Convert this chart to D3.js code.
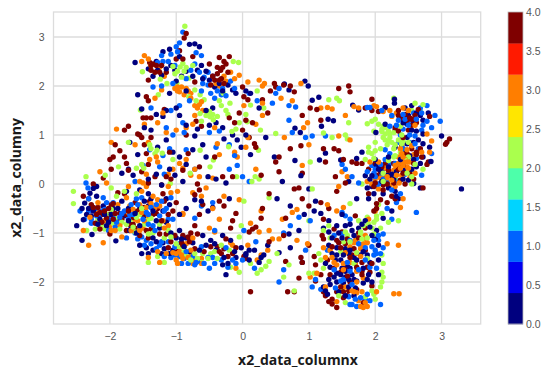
<!DOCTYPE html>
<html><head><meta charset="utf-8">
<script src="https://d3js.org/d3.v7.min.js"></script>
<style>html,body{margin:0;padding:0;background:#fff}svg{display:block}</style>
</head><body><svg id="c" width="550" height="375"></svg>
<script>
const xTicks=[-2,-1,0,1,2,3];
const yTicks=[-2,-1,0,1,2,3];
const barTicks=[0,0.5,1,1.5,2,2.5,3,3.5,4];
const bandColors=["#00007f","#0000f1","#0063ff","#00d4ff","#4dffaa","#aaff4d","#ffe600","#ff7e00","#ff1a00","#7f0000"];
const xLabel="x2_data_columnx", yLabel="x2_data_columny";
const classValues=[0,1,2,3,4];
const navy=[-1.62,2.48,-1.42,2.35,-1.3,2.5,-1.2,2.7,-1.1,2.75,-0.95,2.6,-0.8,2.85,-0.72,2.86,-0.65,2.8,-0.85,2.3,-0.75,2.2,-1.15,2.35,-1.35,2.2,-1.0,2.1,-0.55,2.3,-0.6,2.15,-0.45,2.2,-0.35,2.05,-0.3,1.9,-0.1,1.85,0.05,1.9,0.12,1.85,0.25,1.55,-1.58,1.82,-1.52,1.53,-1.2,1.38,-1.15,1.5,-1.0,1.55,-0.95,1.4,-0.85,1.2,-0.55,1.5,-0.45,1.55,-0.4,1.25,-0.5,1.2,-0.3,1.15,-0.15,1.0,-0.08,0.9,-0.02,0.75,0.12,0.6,0.05,1.0,0.35,0.95,0.48,0.55,-1.48,1.15,-1.38,1.1,-1.15,0.9,-1.28,0.75,-1.05,0.65,-0.95,0.55,-0.75,0.7,-0.6,0.8,-0.55,0.55,-0.85,0.4,-1.7,0.85,-1.58,0.6,-1.1,0.3,-1.3,0.2,-1.42,0.1,-0.52,0.15,-0.4,0.1,-0.25,0.02,-0.9,0.05,-2.2,-0.05,0.94,2.1,0.99,2.0,0.63,2.04,0.7,1.92,1.05,1.71,1.15,1.77,1.66,1.61,1.75,1.51,1.37,1.29,1.29,1.32,1.19,1.18,0.79,1.14,0.87,1.05,2.15,1.56,2.29,1.73,2.29,1.65,2.15,1.22,2.01,1.05,3.0,0.98,1.8,0.65,1.25,0.63,1.16,0.49,0.79,0.48,0.88,0.17,1.48,0.49,1.72,0.52,1.85,0.17,1.95,0.17,2.84,0.46,3.3,-0.1,2.68,-0.08,2.58,0.01,
2.45,1.55,2.55,1.6,2.62,1.45,2.72,1.3,2.8,1.45,2.5,1.4,2.42,1.25,2.3,1.1,2.55,1.1,2.72,1.02,2.65,0.9,2.48,0.82,2.3,0.75,2.82,0.75,2.72,0.55,2.62,0.35,2.2,0.35,2.1,0.25,2.25,0.2,2.42,0.1,2.5,0.08,2.55,0.3,2.38,0.5,2.2,0.55,2.0,0.5,2.05,0.3,2.1,0.05,1.95,-0.05,2.12,-0.2,2.35,-0.3,2.25,-0.55,2.12,-0.7,2.3,-0.15,
-2.5,-0.85,-2.42,-1.15,-2.27,-1.03,-1.91,-1.16,-2.4,-0.73,-2.38,-0.39,-2.3,-0.19,-2.25,-0.09,-2.42,-0.5,-2.35,-0.62,-2.25,-0.55,-2.2,-0.25,-2.15,-0.72,-2.05,-0.85,-1.98,-0.62,-1.88,-0.5,-1.82,-0.35,-1.72,-0.75,-1.62,-0.6,-1.55,-0.85,-1.48,-0.35,-1.42,-0.2,-1.35,-0.55,-1.3,-0.75,-1.25,-0.9,-1.2,-1.2,-1.35,-1.35,-1.45,-1.3,-1.52,-1.42,-1.22,-1.42,-1.05,-1.35,-1.0,-1.1,-0.95,-0.95,-0.85,-1.1,-0.75,-1.2,-0.6,-1.05,-0.48,-1.15,-0.4,-1.35,-0.3,-1.05,-0.18,-1.15,-0.1,-1.5,-0.02,-1.3,0.1,-1.55,-0.3,-1.65,-0.25,-1.85,0.05,-1.45,0.1,-1.35,0.25,-1.6,0.32,-1.45,0.38,-1.25,-0.95,-0.62,-0.85,-0.5,-0.72,-0.32,-0.62,-0.35,-0.45,-0.48,-0.2,-0.3,-0.52,-0.55,-1.55,-0.12,-1.75,-0.15,-1.15,-0.3,0.72,-1.3,0.55,-1.4,0.9,-1.6,-1.6,-1.0,-1.7,-0.95,-2.1,-0.45,
1.0,-0.1,1.1,-0.35,1.18,-0.6,1.3,-0.75,1.22,-0.9,1.35,-1.1,1.45,-1.0,1.55,-0.85,1.65,-0.95,1.75,-0.9,1.85,-0.75,1.95,-1.05,1.42,-1.3,1.3,-1.25,1.52,-1.45,1.62,-1.35,1.72,-1.55,1.82,-1.38,1.92,-1.6,2.05,-1.25,2.05,-1.55,1.4,-1.55,1.32,-1.7,1.5,-1.72,1.58,-1.65,1.65,-1.85,1.72,-1.98,1.55,-1.9,1.48,-1.85,1.38,-1.9,1.32,-2.05,1.22,-2.1,1.28,-2.25,1.45,-2.2,1.6,-2.1,1.7,-2.12,1.88,-1.95,1.95,-2.0,2.05,-1.85,1.82,-1.72,1.08,-0.55,0.93,-0.62,0.85,-0.95,0.72,-0.45,0.6,0.05,0.52,-0.3,0.7,-1.02,1.5,-0.62,1.9,-0.3,1.72,-0.3,1.6,0.05,2.02,-0.95];
const azure=[-0.9,3.1,-0.95,2.88,-1.0,2.8,-1.08,2.65,-1.22,2.62,-1.28,2.48,-1.12,2.5,-0.85,2.15,-0.72,2.45,-0.7,2.68,-0.62,2.62,-0.65,2.28,-0.6,2.05,-0.52,2.02,-0.48,1.85,-0.42,1.75,-0.3,1.95,-0.25,1.8,-1.05,2.05,-1.35,1.98,-0.8,1.7,-0.95,1.6,-1.08,1.5,-1.38,1.55,-1.15,1.15,-0.88,1.05,-1.05,1.0,-0.5,1.05,-0.35,1.08,-0.12,0.58,-0.08,0.38,0.0,0.15,0.1,0.05,-0.2,0.8,-1.4,0.7,-1.5,0.38,-1.62,0.05,-1.2,0.58,-0.85,0.7,-0.72,0.3,-0.4,0.75,-0.2,0.3,0.1,1.85,0.22,1.7,0.45,1.65,0.5,1.85,0.55,1.95,0.7,1.6,0.8,1.57,0.7,1.3,0.75,1.05,0.95,0.95,1.05,0.98,1.25,0.98,-2.36,0.02,-2.33,-0.08,
1.88,1.56,1.92,1.56,2.1,1.5,2.25,1.4,2.35,1.3,2.42,1.12,2.52,1.3,2.58,1.45,2.68,1.55,2.78,1.6,2.9,1.4,2.98,1.28,2.78,1.28,2.7,1.1,2.85,1.15,2.6,0.98,2.52,1.0,2.35,0.85,2.42,0.72,2.85,0.62,2.22,0.62,2.15,0.5,2.08,0.4,2.0,0.3,2.0,0.15,2.12,0.1,2.05,0.0,2.18,0.02,1.5,0.4,1.55,0.3,1.65,0.15,1.75,0.02,1.88,0.25,2.25,-0.12,2.38,-0.2,2.62,-0.58,2.18,-0.5,2.25,-0.72,2.32,-0.38,2.32,0.08,2.45,0.2,2.7,0.18,
-2.45,-0.55,-2.38,-0.72,-2.28,-0.8,-2.2,-0.65,-2.22,-0.5,-2.12,-0.55,-2.05,-0.38,-2.02,-0.95,-1.92,-0.88,-1.85,-0.68,-1.78,-0.55,-1.7,-0.62,-1.68,-0.42,-1.6,-0.3,-1.5,-0.72,-1.45,-0.58,-1.42,-0.82,-1.32,-0.95,-1.3,-0.42,-1.25,-0.65,-1.15,-0.5,-1.08,-0.28,-1.05,-0.72,-1.62,-1.0,-1.58,-1.12,-1.75,-1.1,-1.45,-1.15,-1.38,-1.22,-1.25,-1.25,-1.12,-1.18,-1.02,-1.28,-0.95,-1.48,-0.92,-1.62,-0.75,-1.48,-0.72,-1.65,-0.58,-1.62,-0.5,-1.72,-0.45,-1.5,-0.62,-1.28,-0.25,-1.3,-0.15,-1.55,0.0,-1.55,-0.22,-1.7,0.2,-1.18,0.02,-0.95,-0.42,-0.95,-0.72,-0.7,-1.95,-0.38,-2.1,-0.28,-2.32,-0.3,0.18,-1.72,-0.7,-1.6,-0.85,-1.38,-0.62,-0.45,-0.45,-0.38,
1.28,-1.35,1.18,-2.15,1.05,-2.1,1.1,-1.95,1.5,-0.58,1.55,-0.65,1.62,-0.72,1.38,-1.05,1.85,-1.3,1.98,-1.45,2.0,-1.35,2.05,-1.15,2.12,-1.02,2.12,-1.3,1.92,-1.7,1.58,-1.6,1.65,-2.05,1.6,-2.3,1.88,-2.25,1.92,-2.38,1.72,-2.5,1.62,-2.46,2.08,-2.46,1.4,-2.12,1.52,-1.95,1.75,-1.75,1.38,-1.75,1.02,-0.75,0.72,-0.85,0.62,-1.0,0.95,-1.35,0.85,-0.68,0.62,-1.75,0.55,-2.0];
const green=[-0.87,3.22,-1.51,2.29,-0.9,2.46,-0.94,2.39,-0.81,2.16,-1.24,2.14,-1.14,2.05,-1.27,1.82,-0.99,2.05,-0.81,1.78,-0.64,1.82,-0.49,1.37,-0.44,1.31,-0.64,1.44,-0.29,1.85,-0.19,1.65,-0.14,2.5,-0.06,2.48,0.07,1.27,0.24,0.69,0.27,1.1,-1.54,1.51,-1.72,0.85,-1.29,0.69,-1.21,0.63,-1.87,0.35,-2.07,0.18,-2.36,0.15,-1.49,0.32,-0.79,0.22,-0.49,0.35,-0.44,0.49,-0.09,0.15,0.19,0.15,0.14,0.05,-0.21,0.76,-0.16,1.07,-1.09,0.01,-0.64,0.69,0.22,1.9,0.12,1.61,-0.88,2.3,-0.75,2.42,-1.02,2.25,-0.52,1.42,-0.62,1.28,-0.7,1.7,-0.35,1.7,-0.25,1.5,-0.05,1.25,0.05,1.42,0.32,1.55,-1.4,0.8,-1.05,0.5,
1.3,1.72,1.42,1.75,1.46,1.7,0.5,1.03,1.02,0.45,1.22,1.04,1.35,0.95,1.55,1.0,1.58,0.92,1.6,1.25,1.88,1.23,1.95,1.28,2.0,1.32,2.05,1.22,2.12,1.18,2.28,1.75,1.98,1.08,2.1,1.07,2.22,1.02,2.22,0.95,2.2,0.88,2.18,0.8,2.28,0.72,2.38,0.65,2.3,0.58,2.15,0.9,2.5,0.55,2.45,0.48,2.6,0.4,2.72,0.3,2.55,0.15,2.4,0.82,1.85,0.5,2.6,1.65,2.72,1.62,2.4,1.0,2.12,0.05,1.95,0.62,1.9,0.75,2.0,0.85,1.8,-0.0,2.05,-0.42,2.35,-0.75,2.55,0.0,2.3,0.12,
-2.55,-0.4,-2.55,-0.15,-2.35,-0.95,-2.22,-0.92,-2.12,-0.82,-2.05,-0.62,-1.95,-0.8,-1.85,-0.92,-1.75,-0.82,-1.65,-0.88,-1.6,-0.68,-1.52,-0.5,-1.78,-0.15,-1.9,-0.25,-1.98,-0.08,-1.6,-0.2,-1.42,-1.02,-1.38,-0.7,-1.08,-1.08,-1.0,-1.22,-0.88,-1.38,-0.78,-1.55,-0.6,-1.42,-0.48,-1.42,-0.32,-1.25,-0.2,-1.35,-1.28,-1.48,-1.42,-1.6,-1.18,-1.6,-0.62,-1.6,-0.05,-1.08,-0.02,-0.85,0.02,-0.35,-0.18,-1.7,-0.05,-1.8,0.12,-1.62,0.25,-1.55,0.4,-0.28,0.25,0.1,
0.22,-1.82,0.52,-1.42,0.4,-1.58,0.7,-1.65,0.62,-1.9,0.28,-1.75,0.35,-1.68,0.78,-2.18,1.05,-0.1,1.15,-1.42,1.22,-1.72,1.3,-0.85,1.0,-1.82,1.48,-1.38,1.52,-1.18,1.58,-1.05,1.62,-0.4,1.75,-0.75,1.88,-0.68,1.95,-0.9,2.02,-0.72,2.2,-0.78,2.1,-1.45,2.1,-1.8,2.1,-2.0,2.08,-2.1,1.95,-2.18,2.0,-2.35,1.85,-2.3,1.55,-2.42,1.68,-1.62,1.8,-1.12,1.98,-1.02,1.45,-2.28,1.72,-1.4,1.22,-0.95,1.0,-0.75];
const orange=[-1.48,2.62,-1.52,2.5,-1.25,2.38,-1.18,2.2,-0.98,1.9,-1.02,1.95,-0.95,1.88,-0.88,1.82,-0.82,1.9,-0.78,1.75,-0.68,1.55,-0.65,1.62,-0.72,1.4,-0.75,1.22,-0.4,2.05,-0.28,2.2,-0.18,2.28,-0.12,2.15,-0.05,2.22,0.25,2.12,0.33,2.05,0.08,2.08,0.02,1.6,0.3,1.4,0.2,1.22,-0.42,1.15,-1.2,1.45,-1.32,1.75,-1.28,1.25,-1.3,0.55,-1.4,0.5,-1.9,1.12,-1.98,0.85,-1.62,0.8,-1.15,1.05,-1.0,1.1,-0.85,1.15,0.08,0.95,0.05,0.75,-0.08,0.55,-0.12,0.65,-0.35,0.6,-0.38,0.82,-0.95,0.42,-1.05,0.3,-1.12,0.2,-1.45,0.2,-1.55,0.05,-0.72,0.3,-0.65,0.15,-0.45,0.12,-2.15,0.25,-2.05,0.02,-1.72,-0.05,
0.58,1.75,0.75,1.7,0.88,2.05,1.0,0.8,0.63,0.95,0.3,1.65,0.3,2.0,0.2,0.3,1.18,1.55,1.28,1.56,1.35,1.53,0.98,1.25,0.92,1.15,1.45,0.98,1.62,0.9,1.75,1.55,1.68,1.58,1.55,1.4,0.9,0.38,1.5,0.25,1.58,0.15,1.28,-0.42,1.45,-0.05,1.98,1.6,2.02,1.58,2.12,1.48,2.25,1.38,2.42,1.55,2.5,1.5,2.6,1.2,2.78,1.02,2.85,0.88,2.82,0.65,2.7,0.65,2.55,0.78,2.48,0.7,2.42,0.55,2.38,0.42,2.32,0.35,2.48,0.35,2.52,0.45,2.45,0.25,2.4,0.18,2.28,0.28,2.2,0.22,2.15,0.32,2.18,0.05,2.08,0.12,1.95,0.0,2.05,-0.1,2.22,-0.02,2.3,-0.05,2.36,0.02,2.42,-0.3,2.38,-0.48,2.52,0.12,2.6,0.22,2.05,0.45,1.92,0.45,
-2.32,-1.25,-2.1,-1.2,-1.98,-0.95,-1.92,-0.95,-1.82,-1.08,-2.4,-0.95,-2.3,-0.68,-2.18,-0.38,-1.88,-0.42,-1.75,-0.28,-1.7,-0.45,-1.65,-0.52,-1.58,-0.75,-1.5,-0.9,-1.55,-0.42,-1.52,-0.15,-1.45,-0.05,-1.35,-0.25,-1.28,-0.32,-1.2,-0.75,-1.12,-0.85,-1.45,-0.48,-1.12,-0.05,-1.08,-0.18,-0.98,-0.15,-0.9,-0.6,-1.42,-1.5,-1.28,-1.38,-1.15,-1.42,-1.0,-1.55,-0.9,-1.52,-0.82,-1.5,-0.78,-1.35,-0.75,-1.1,-0.62,-0.25,-0.55,-0.08,-0.45,-0.5,-0.35,-0.72,-0.5,-0.9,-0.42,-0.98,-0.28,-0.25,-0.05,-0.32,-0.18,-1.2,-0.1,-1.72,0.12,-0.8,0.25,-0.98,0.4,-0.95,-0.62,-1.62,-1.25,-1.6,-0.9,-0.62,0.28,-0.55,-0.75,-0.18,
0.28,-1.45,0.08,-1.25,0.22,-1.55,0.38,-1.35,0.45,-1.12,0.55,-1.12,0.75,-0.58,0.82,-0.52,0.6,-0.72,0.98,-1.22,0.82,-1.15,1.02,-1.9,1.12,-1.82,1.22,-1.3,1.25,-1.5,1.35,-1.5,1.42,-0.55,1.52,-0.48,1.62,-1.28,1.7,-1.15,1.72,-1.42,1.78,-1.32,1.82,-1.22,1.88,-1.2,1.9,-0.72,2.0,-0.55,1.85,-1.05,1.52,-1.75,1.32,-1.35,1.25,-2.1,1.42,-2.4,1.55,-2.1,1.72,-2.0,1.72,-2.22,1.8,-2.2,2.02,-2.2,2.18,-1.22,2.35,-1.25,2.28,-2.24,2.36,-2.24,1.78,-2.5,1.82,-2.52,1.88,-2.5,1.85,-2.42,1.68,-2.2];
const maroon=[-0.85,3.07,-0.88,2.98,-0.95,2.72,-0.75,2.6,-1.0,2.55,-1.15,2.28,-1.4,2.48,-1.3,2.42,-1.25,2.28,-1.38,2.32,-1.42,2.12,-0.35,2.58,-0.2,2.6,-0.25,2.45,-0.3,2.38,-0.38,2.25,-0.42,2.12,-0.32,2.15,-0.28,2.05,-0.5,2.45,0.0,1.98,0.02,1.78,0.08,1.72,0.42,1.9,0.3,1.72,0.38,1.45,0.15,1.25,0.05,1.3,-0.12,1.25,0.2,0.75,-1.45,1.78,-1.42,1.7,-1.18,1.52,-1.45,1.35,-1.38,1.35,-0.7,1.28,-0.85,1.0,-0.62,1.18,-0.2,1.35,-0.05,1.45,0.0,1.1,-1.78,1.1,-1.72,1.18,-1.58,1.02,-1.52,0.95,-1.55,1.0,-1.92,0.8,-1.85,0.68,-1.95,0.55,-2.0,0.5,-1.98,0.3,-1.78,0.55,-1.75,0.42,-1.72,0.28,-1.1,0.65,-1.15,0.15,-1.08,0.1,-0.82,0.62,-0.9,0.28,-0.65,0.35,-0.42,0.55,0.1,0.95,0.18,0.82,-2.25,0.0,-2.1,0.12,-0.68,0.0,-0.3,0.15,
0.48,2.05,0.5,1.98,0.62,2.02,0.72,2.0,0.78,1.88,1.45,1.95,1.6,2.0,1.62,1.88,1.95,1.73,1.85,1.55,1.02,1.55,1.12,1.52,0.9,1.4,1.18,1.3,0.88,0.78,0.72,0.72,0.55,0.55,0.5,0.45,0.55,0.25,0.28,0.18,1.22,0.72,1.38,0.72,1.45,0.68,1.52,0.5,1.65,0.45,1.72,0.42,1.8,0.42,1.9,0.3,2.02,0.18,1.25,0.45,1.4,0.15,1.55,0.02,1.42,-0.15,0.78,-0.1,0.85,-0.08,0.9,0.22,1.95,1.5,2.05,1.48,2.35,1.5,2.45,1.42,2.52,1.35,2.65,1.52,2.6,1.4,2.82,1.38,2.55,1.2,2.3,1.15,2.35,1.08,2.42,0.95,2.55,0.72,2.62,0.65,2.68,0.72,2.78,0.4,3.08,0.85,3.12,0.92,3.06,0.81,2.8,0.45,2.72,-0.08,2.58,0.1,2.45,0.0,2.38,0.08,2.25,0.15,2.15,0.42,2.28,0.42,2.42,0.38,2.5,0.55,2.45,0.62,2.0,0.42,2.08,0.25,1.98,-0.05,2.12,-0.02,2.25,-0.25,2.3,-0.3,2.18,-0.38,2.02,-0.4,
-2.4,-0.25,-2.28,-0.42,-2.2,-0.62,-2.12,-0.78,-2.1,-0.62,-2.05,-0.7,-2.02,-0.5,-1.95,-0.4,-1.95,-0.72,-1.92,-0.6,-1.88,-0.18,-1.78,-0.2,-1.75,-0.95,-1.65,-0.82,-1.62,-0.38,-1.55,-1.05,-1.5,-0.62,-1.4,-0.35,-1.38,-0.92,-1.3,-0.6,-1.25,-1.02,-1.2,-0.2,-1.12,-0.62,-1.05,-0.55,-1.0,-0.38,-1.42,0.02,-1.32,0.15,-1.22,-0.02,-1.18,-0.35,-1.12,-1.3,-1.08,-1.18,-0.98,-1.38,-0.82,-1.08,-0.8,-1.18,-0.68,-1.02,-0.72,-0.85,-0.65,-0.62,-0.6,-0.42,-0.65,-0.12,-0.72,-0.22,-0.38,-1.28,-0.32,-1.42,-0.28,-1.32,-0.22,-1.48,-0.18,-0.9,-0.15,-0.75,0.02,-1.48,0.05,-1.52,-0.1,-0.6,-0.35,-0.35,-0.28,-0.45,-0.15,0.15,0.12,-2.2,0.1,-0.98,0.15,-0.92,0.2,-0.88,-0.8,-1.1,-0.9,-1.25,-1.65,-0.68,-1.72,-0.55,-2.22,-0.8,-2.15,-0.92,-2.0,-1.02,
0.9,-1.6,0.4,-0.2,0.3,-0.5,0.28,-0.7,0.4,-1.18,0.65,-0.7,0.62,-1.05,0.68,-2.2,0.78,-2.2,0.65,-1.58,0.88,-1.5,0.85,-1.92,1.1,-1.98,1.18,-1.85,1.0,-0.45,0.9,-0.3,1.18,-0.38,1.22,-0.72,1.3,-0.5,1.38,-0.92,1.45,-1.2,1.5,-0.98,1.58,-1.12,1.62,-1.5,1.7,-0.65,1.75,-1.1,1.8,-1.6,1.85,-0.9,1.9,-0.2,1.98,-0.55,2.02,-0.5,2.08,-0.32,1.95,-1.62,1.8,-1.85,1.72,-1.7,1.58,-1.88,1.48,-2.1,1.35,-2.35,1.3,-2.4,1.22,-2.2,1.42,-1.15,1.28,-1.55,1.1,-1.65,1.52,-2.2,1.6,-2.18,1.72,-2.15,1.42,-2.52,1.82,-2.42,1.95,-2.08,1.92,-1.8,1.68,-1.32,1.22,-1.12,1.08,-1.48,1.0,-1.25];
// second reading pass over the densest regions
const navyB=[-1.28,2.32,-1.22,2.22,-1.08,2.42,-1.02,2.32,-0.92,2.2,-0.68,2.32,-0.62,2.42,-0.5,2.12,-0.42,1.98,-0.22,2.02,-0.15,1.92,-0.85,1.9,-1.1,1.85,-1.3,1.42,-0.68,1.12,-0.72,0.98,-0.28,0.92,-1.72,0.3,-1.65,0.18,-1.82,0.22,-1.02,0.18,-1.22,-0.02,-2.32,-0.5,-2.28,-0.65,-2.18,-0.82,-2.08,-0.62,-2.02,-0.78,-1.95,-0.5,-1.78,-0.65,-1.72,-0.5,-1.68,-0.88,-1.55,-0.5,-1.48,-0.65,-1.42,-0.45,-1.38,-0.3,-1.2,-0.55,-1.15,-0.78,-1.1,-0.42,-1.55,-1.25,-1.42,-1.42,-1.35,-1.1,-1.3,-1.18,-1.18,-1.32,-1.1,-1.42,-1.08,-1.0,-0.92,-1.12,-0.88,-1.28,-0.8,-1.38,-0.65,-1.35,-0.55,-1.25,-0.42,-1.22,-0.28,-1.5,-0.22,-1.62,-0.12,-1.38,0.05,-1.42,0.18,-1.35,0.28,-1.5,
2.38,1.38,2.48,1.22,2.58,1.25,2.62,1.08,2.68,1.4,2.48,0.95,2.58,0.85,2.72,0.82,2.45,0.68,2.52,0.58,2.58,0.5,2.68,0.42,2.32,0.25,2.28,0.1,2.42,0.28,2.18,0.18,2.2,-0.08,2.02,0.38,1.92,0.1,1.98,-0.2,1.88,-0.08,2.32,-0.25,
1.3,-0.98,1.42,-0.85,1.5,-1.1,1.62,-0.82,1.68,-1.05,1.8,-0.82,1.92,-0.88,1.42,-1.45,1.48,-1.55,1.55,-1.32,1.6,-1.42,1.68,-1.5,1.78,-1.45,1.88,-1.45,1.55,-1.78,1.62,-1.72,1.68,-1.95,1.6,-1.95,1.52,-2.02,1.42,-2.0,1.42,-1.82,1.3,-1.95,1.25,-2.18,1.82,-2.02,1.9,-1.85,2.0,-1.12,1.35,-1.42,1.25,-1.62,1.55,-2.28,1.68,-2.28];
const azureB=[-1.2,2.5,-1.02,2.42,-0.98,2.7,-0.78,2.32,-0.58,2.18,-0.52,2.28,-0.38,1.9,-0.32,1.82,-0.12,1.95,-0.18,2.1,-1.22,2.0,-0.62,1.9,-0.9,1.25,-1.1,0.72,-1.25,0.35,-1.18,0.2,
2.22,1.18,2.32,1.2,2.42,1.42,2.5,1.2,2.62,1.32,2.7,1.45,2.72,1.2,2.6,0.82,2.38,1.0,2.52,0.85,2.22,0.42,2.12,0.3,2.08,0.18,1.98,0.02,2.02,-0.02,1.98,0.22,1.95,0.38,2.3,0.42,2.62,0.52,2.65,0.72,2.15,0.7,2.45,1.32,
-2.32,-0.55,-2.28,-0.72,-2.15,-0.62,-2.08,-0.52,-2.02,-0.72,-1.95,-0.7,-1.9,-0.78,-1.82,-0.6,-1.72,-0.72,-1.65,-0.62,-1.58,-0.42,-1.52,-0.28,-1.42,-0.62,-1.38,-0.48,-1.35,-0.85,-1.22,-0.35,-1.18,-0.55,-1.12,-0.72,-1.1,-1.0,-1.52,-1.08,-1.48,-1.25,-1.3,-1.32,-1.22,-1.18,-1.18,-1.48,-1.08,-1.5,-1.02,-1.45,-0.95,-1.22,-0.88,-1.52,-0.82,-1.62,-0.68,-1.58,-0.52,-1.5,-0.42,-1.62,-0.32,-1.55,-0.1,-1.62,
1.5,-1.02,1.62,-1.15,1.75,-1.22,1.85,-1.55,1.98,-1.15,2.05,-1.05,2.02,-1.42,1.95,-1.28,2.08,-1.42,1.62,-1.78,1.48,-1.98,1.7,-2.35,1.78,-2.32,1.85,-2.35,1.65,-2.46,2.02,-1.72];
const greenB=[-1.05,2.4,-0.98,2.3,-0.85,2.38,-0.92,2.18,-0.55,1.4,-0.5,1.48,-0.45,1.42,-0.38,1.38,-0.72,1.92,-0.58,1.72,-0.32,1.6,-0.22,1.42,-0.1,1.12,-1.38,0.72,-1.32,0.62,-1.52,0.4,-1.6,0.32,
2.15,1.15,2.1,1.12,2.2,1.08,2.28,1.05,2.15,1.02,2.12,0.95,2.25,0.85,2.3,0.8,2.35,0.9,2.42,0.88,2.08,0.72,2.0,0.68,1.9,0.65,2.5,0.85,2.28,0.55,2.2,0.48,2.48,0.22,2.12,0.22,1.98,0.52,2.68,1.48,2.55,1.5,2.38,1.18,
-2.18,-0.72,-2.08,-0.92,-1.98,-0.52,-1.92,-0.7,-1.82,-0.78,-1.68,-0.72,-1.62,-0.98,-1.55,-0.62,-1.48,-0.82,-1.42,-0.72,-1.35,-1.0,-1.25,-0.82,-1.18,-1.1,-1.12,-0.95,-0.95,-1.3,-0.85,-1.45,-0.72,-1.42,-0.68,-1.52,-0.52,-1.52,-0.42,-1.38,-0.38,-1.52,
1.82,-0.85,1.9,-0.82,1.98,-0.78,1.78,-0.98,1.88,-1.1,1.62,-1.18,1.55,-0.98,2.08,-0.9,2.12,-1.62,2.12,-1.9,1.98,-2.25,1.5,-2.15,1.88,-1.52,1.78,-1.02,2.02,-0.65,2.1,-0.6,1.32,-1.1,1.18,-1.55,1.08,-1.82];
const orangeB=[-0.98,1.98,-0.92,1.98,-0.85,1.95,-0.78,1.85,-0.72,1.6,-0.62,1.68,-0.6,1.5,-0.35,2.0,-0.25,2.1,-1.38,2.42,-1.42,2.55,-1.22,1.92,-1.48,1.22,-1.42,0.85,-1.28,0.45,-1.5,0.02,-0.85,0.5,-0.9,0.32,-0.78,0.18,
2.38,0.72,2.4,0.62,2.45,0.5,2.42,0.45,2.48,0.45,2.35,0.42,2.38,0.32,2.3,0.38,2.42,0.38,2.5,0.32,2.32,0.18,2.25,0.08,2.18,0.15,2.08,0.02,2.32,1.45,2.22,1.5,2.15,1.55,2.35,0.55,2.58,0.6,2.12,0.12,2.0,0.1,1.88,0.05,
-2.22,-0.55,-2.15,-0.88,-2.08,-0.75,-2.0,-0.85,-1.85,-0.85,-1.72,-0.58,-1.62,-0.72,-1.68,-0.95,-1.55,-0.95,-1.52,-0.58,-1.48,-0.75,-1.42,-0.65,-1.38,-0.4,-1.32,-0.48,-1.25,-0.45,-1.18,-0.9,-1.05,-1.4,-1.0,-1.42,-0.95,-1.38,-0.98,-1.62,-0.92,-1.45,-0.85,-1.22,-0.8,-1.42,-0.75,-1.55,-0.75,-1.62,-0.62,-1.52,-0.15,-1.25,
1.72,-1.08,1.78,-1.25,1.85,-1.12,1.68,-1.2,1.78,-1.48,1.62,-1.6,1.55,-1.4,1.52,-1.62,1.42,-1.65,1.7,-1.62,1.72,-1.78,1.82,-1.92,1.38,-1.6,1.65,-2.18,1.75,-2.38];
const maroonB=[-1.35,2.45,-1.32,2.28,-1.22,2.42,-1.38,2.42,-0.28,2.5,-0.33,2.32,-0.38,2.38,-0.45,2.2,-0.35,2.12,-0.22,2.28,-0.48,2.02,-0.9,2.55,-0.72,2.08,-1.5,1.35,-1.48,0.8,-1.45,0.62,-1.42,0.4,-1.52,0.25,-1.38,0.95,
2.35,1.4,2.42,1.32,2.48,1.3,2.55,1.32,2.62,1.25,2.5,1.1,2.4,0.78,2.48,0.62,2.58,0.42,2.35,0.3,2.2,0.28,2.1,0.35,2.28,0.02,2.42,0.22,2.52,0.22,2.62,0.6,2.7,0.55,2.18,0.0,2.12,-0.12,2.0,0.02,
-2.32,-0.3,-2.25,-0.48,-2.18,-0.48,-2.15,-0.58,-2.08,-0.55,-2.0,-0.62,-1.98,-0.42,-1.9,-0.72,-1.85,-0.6,-1.82,-0.72,-1.75,-0.62,-1.7,-0.82,-1.62,-0.9,-1.58,-0.55,-1.48,-0.48,-1.45,-0.95,-1.42,-1.1,-1.35,-0.62,-1.28,-0.5,-1.22,-0.75,-1.15,-1.02,-1.02,-1.05,-0.92,-1.2,-0.9,-1.05,-0.78,-1.0,-0.72,-1.32,-0.58,-1.38,-0.48,-1.28,-0.35,-1.38,-0.25,-1.12,-0.15,-1.42,-0.1,-1.3,
1.2,-1.05,1.35,-1.28,1.48,-1.3,1.55,-1.22,1.65,-1.45,1.75,-1.0,1.85,-1.35,1.55,-1.7,1.62,-2.0,1.48,-1.8,1.38,-1.72,1.32,-1.85,1.42,-2.2,1.52,-2.32,1.8,-1.78,1.88,-1.7,1.25,-2.28,1.35,-2.45,1.58,-2.28];

const allSets=[navy.concat(navyB),azure.concat(azureB),green.concat(greenB),orange.concat(orangeB),maroon.concat(maroonB)];
const pts=allSets.map((a,c)=>d3.range(0,a.length,2).map(i=>({x:a[i],y:a[i+1],v:classValues[c],k:(i/2*7)%211+(c*0.2)})));
const data=pts.flat().sort((a,b)=>a.k-b.k);

const svg=d3.select("#c");
const L=53.5,R=480.7,T=12,B=324;
const x=d3.scaleLinear().domain([-2.85,3.59]).range([L,R]);
const y=d3.scaleLinear().domain([-2.857,3.51]).range([B,T]);
const col=d3.scaleQuantize().domain([0,4]).range(bandColors);
const grey="#dcdcdc",tc="#555";
const font="'Liberation Sans',Arial,sans-serif";

const gx=svg.append("g").attr("transform",`translate(0,${B})`).call(d3.axisBottom(x).tickValues(xTicks).tickSize(0).tickPadding(9).tickFormat(d3.format("d")));
const gy=svg.append("g").attr("transform",`translate(${L},0)`).call(d3.axisLeft(y).tickValues(yTicks).tickSize(0).tickPadding(9).tickFormat(d3.format("d")));
[gx,gy].forEach(g=>{g.select(".domain").remove();g.selectAll("text").attr("fill",tc).style("font",`10.5px ${font}`);});
svg.append("g").selectAll("line").data(xTicks).join("line").attr("x1",d=>x(d)).attr("x2",d=>x(d)).attr("y1",T).attr("y2",B).attr("stroke",grey).attr("stroke-width",1.3);
svg.append("g").selectAll("line").data(yTicks).join("line").attr("y1",d=>y(d)).attr("y2",d=>y(d)).attr("x1",L).attr("x2",R).attr("stroke",grey).attr("stroke-width",1.3);
svg.append("rect").attr("x",L).attr("y",T).attr("width",R-L).attr("height",B-T).attr("fill","none").attr("stroke",grey).attr("stroke-width",1.3);
svg.append("g").selectAll("circle").data(data).join("circle").attr("cx",d=>x(d.x)).attr("cy",d=>y(d.y)).attr("r",2.7).attr("fill",d=>col(d.v));

const lab=`700 14px 'Open Sans',sans-serif`;
svg.append("text").attr("x",298).attr("y",365).attr("text-anchor","middle").style("font",lab).attr("fill","#1a1a1a").text(xLabel);
svg.append("text").attr("transform","translate(21,178) rotate(-90)").attr("text-anchor","middle").style("font",lab).attr("fill","#1a1a1a").text(yLabel);

const cb=d3.scaleLinear().domain([0,4]).range([324,12]);
svg.append("g").selectAll("rect").data(bandColors).join("rect").attr("x",508).attr("width",15)
 .attr("y",(d,i)=>cb((i+1)*0.4)).attr("height",(d,i)=>cb(i*0.4)-cb((i+1)*0.4)+0.3).attr("fill",d=>d);
svg.append("rect").attr("x",508).attr("y",12).attr("width",15).attr("height",312).attr("fill","none").attr("stroke","#bbb").attr("stroke-width",0.8);
const ga=svg.append("g").attr("transform","translate(523,0)").call(d3.axisRight(cb).tickValues(barTicks).tickSize(0).tickPadding(3).tickFormat(d3.format(".1f")));
ga.select(".domain").remove();ga.selectAll("text").attr("fill",tc).style("font",`10.5px ${font}`);
</script></body></html>
